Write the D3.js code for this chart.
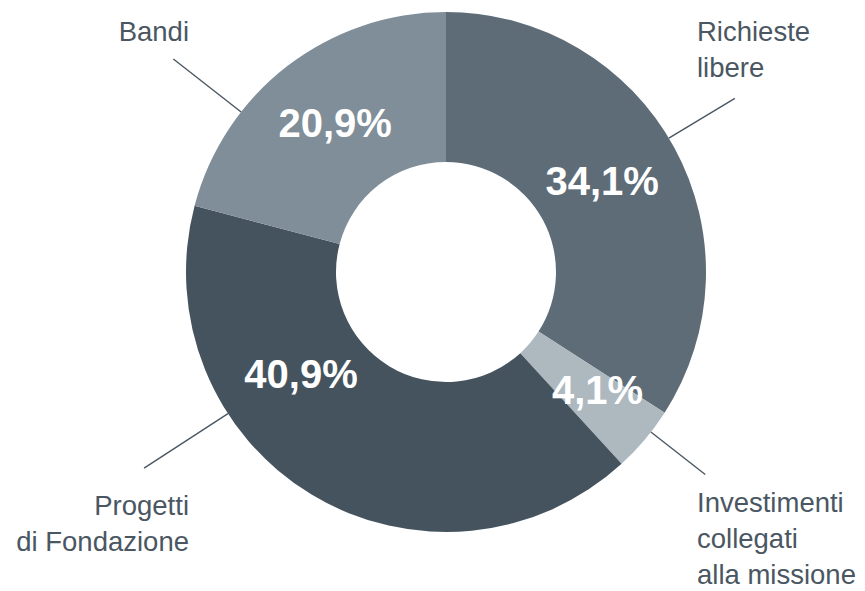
<!DOCTYPE html>
<html>
<head>
<meta charset="utf-8">
<script src="https://cdn.jsdelivr.net/npm/d3@7"></script>
<style>
  body { margin: 0; background: #fff; }
  text { font-family: "Liberation Sans", Arial, sans-serif; }
</style>
</head>
<body>
<script>
// dati del grafico
var categories = ["Richieste\nlibere", "Investimenti\ncollegati\nalla missione", "Progetti\ndi Fondazione", "Bandi"];
var values = [34.1, 4.1, 40.9, 20.9];
var colors = ["#5e6c77", "#adb8bf", "#45535e", "#7f8e98"];

var width = 865, height = 591;
var cx = 446, cy = 272, outerR = 260, innerR = 110;

// posizioni delle etichette (layout)
var leaders = [
  {angle: 59,  len: 77,  tx: 697, ty: 41,  anchor: "start"},
  {angle: 128, len: 69,  tx: 697, ty: 512, anchor: "start"},
  {angle: 237, len: 100, tx: 189, ty: 515, anchor: "end"},
  {angle: 308, len: 86,  tx: 189, ty: 41,  anchor: "end"}
];
var pctPos = [{r: 181, angle: 59.6}, {r: 192, angle: 127.9}, {r: 177, angle: 235}, {r: 186, angle: 323.4}];

var svg = d3.select("body").append("svg")
  .attr("width", width).attr("height", height);

var g = svg.append("g").attr("transform", "translate(" + cx + "," + cy + ")");

var pie = d3.pie().sort(null).value(function(d){ return d; });
var arcs = pie(values);

var arc = d3.arc().innerRadius(innerR).outerRadius(outerR);

g.selectAll("path.slice")
  .data(arcs)
  .enter().append("path")
  .attr("class", "slice")
  .attr("d", arc)
  .attr("fill", function(d, i){ return colors[i]; });

// linee guida
var rad = Math.PI / 180;
g.selectAll("line.leader")
  .data(arcs)
  .enter().append("line")
  .attr("class", "leader")
  .attr("x1", function(d, i){ return outerR * Math.sin(leaders[i].angle * rad); })
  .attr("y1", function(d, i){ return -outerR * Math.cos(leaders[i].angle * rad); })
  .attr("x2", function(d, i){ return (outerR + leaders[i].len) * Math.sin(leaders[i].angle * rad); })
  .attr("y2", function(d, i){ return -(outerR + leaders[i].len) * Math.cos(leaders[i].angle * rad); })
  .attr("stroke", "#4a5762")
  .attr("stroke-width", 1.4);

// percentuali
var fmt = function(v){ return d3.format(".1f")(v).replace(".", ",") + "%"; };
g.selectAll("text.pct")
  .data(arcs)
  .enter().append("text")
  .attr("class", "pct")
  .attr("transform", function(d, i){
    var p = pctPos[i] || {};
    var a = p.angle !== undefined ? p.angle * rad : (d.startAngle + d.endAngle) / 2;
    var r = p.r || 186;
    return "translate(" + (r * Math.sin(a)) + "," + (-r * Math.cos(a)) + ")";
  })
  .attr("dy", "0.36em")
  .attr("text-anchor", "middle")
  .attr("fill", "#fff")
  .attr("font-weight", "bold")
  .attr("font-size", 40)
  .text(function(d){ return fmt(d.data); });

// etichette categorie
var labels = svg.selectAll("text.cat")
  .data(categories)
  .enter().append("text")
  .attr("class", "cat")
  .attr("x", function(d, i){ return leaders[i].tx; })
  .attr("y", function(d, i){ return leaders[i].ty; })
  .attr("text-anchor", function(d, i){ return leaders[i].anchor; })
  .attr("fill", "#4a5762")
  .attr("font-size", 27.5);

labels.each(function(d, i){
  var t = d3.select(this);
  d.split("\n").forEach(function(line, j){
    t.append("tspan")
      .attr("x", leaders[i].tx)
      .attr("dy", j === 0 ? 0 : 36)
      .text(line);
  });
});
</script>
</body>
</html>
